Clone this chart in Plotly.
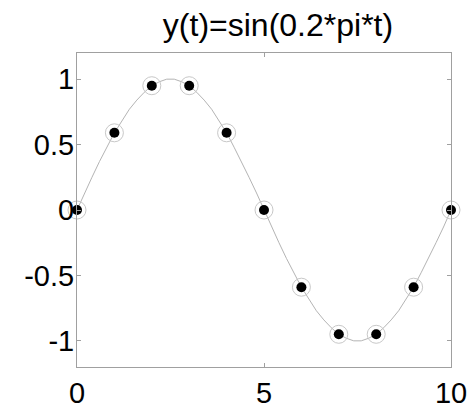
import plotly.graph_objects as go

# continuous curve, t step 0.2
t_fine = [i * 0.2 for i in range(51)]
y_fine = [0, .13, .25, .37, .48, .59, .68, .77, .84, .90, .95, .98, 1.00,
          1.00, .98, .95, .90, .84, .77, .68, .59, .48, .37, .25, .13, 0,
          -.13, -.25, -.37, -.48, -.59, -.68, -.77, -.84, -.90, -.95, -.98, -1.00,
          -1.00, -.98, -.95, -.90, -.84, -.77, -.68, -.59, -.48, -.37, -.25, -.13, 0]

# samples
t_samp = [0, 1, 2, 3, 4, 5, 6, 7, 8, 9, 10]
y_samp = [0, 0.59, 0.95, 0.95, 0.59, 0, -0.59, -0.95, -0.95, -0.59, 0]

x_ticks = [0, 5, 10]
x_labels = ["0", "5", "10"]
y_ticks = [-1, -0.5, 0, 0.5, 1]
y_labels = ["-1", "-0.5", "0", "0.5", "1"]

fig = go.Figure()
fig.add_trace(go.Scatter(x=t_fine, y=y_fine, mode="lines",
                         line=dict(color="#b4b4b4", width=1), hoverinfo="skip"))
fig.add_trace(go.Scatter(x=t_samp, y=y_samp, mode="markers", cliponaxis=False,
                         marker=dict(symbol="circle-open", size=18, color="#c8c8c8",
                                     line=dict(color="#c8c8c8", width=1))))
fig.add_trace(go.Scatter(x=t_samp, y=y_samp, mode="markers", cliponaxis=False,
                         marker=dict(symbol="circle", size=10, color="black",
                                     line=dict(width=0))))

axis_common = dict(showgrid=False, zeroline=False, showline=True, mirror="ticks",
                   linecolor="#a0a0a0", linewidth=1, ticks="inside", ticklen=4,
                   tickcolor="#a0a0a0", automargin=False,
                   tickfont=dict(family="Liberation Sans, Arial", size=29, color="black"))

fig.update_layout(
    width=475, height=409,
    margin=dict(l=69, r=32, t=45, b=50),
    paper_bgcolor="white", plot_bgcolor="white",
    showlegend=False,
    title=dict(text="y(t)=sin(0.2*pi*t)", x=270 / 475, xanchor="center",
               y=1 - 17 / 409, yanchor="middle", xref="container", yref="container",
               font=dict(family="Liberation Sans, Arial", size=32, color="black")),
    xaxis=dict(range=[0, 10], tickvals=x_ticks, ticktext=x_labels, **axis_common),
    yaxis=dict(range=[-1.2, 1.2], tickvals=y_ticks, ticktext=y_labels,
               ticklabelstandoff=-4, **axis_common),
)

fig.write_html("out.html")
